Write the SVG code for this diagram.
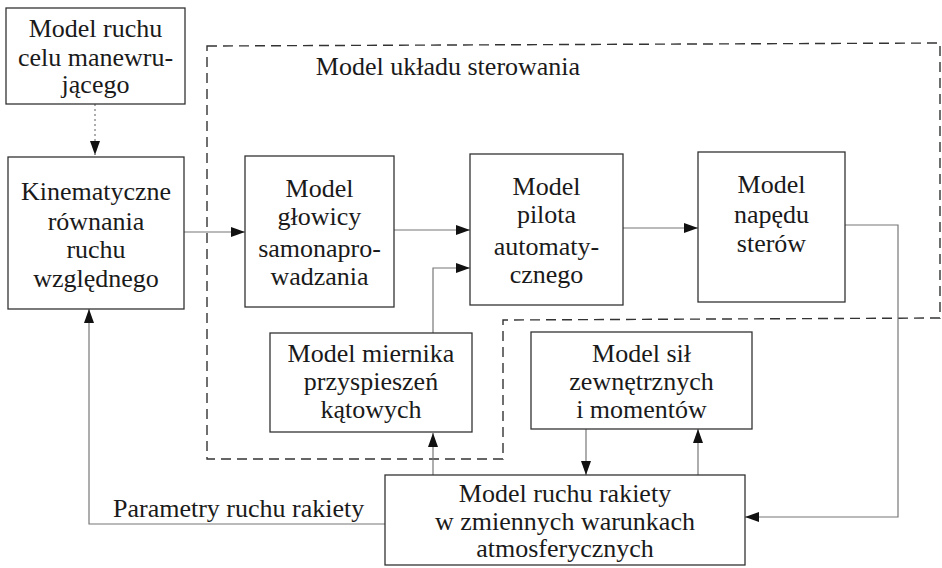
<svg xmlns="http://www.w3.org/2000/svg" width="942" height="568" viewBox="0 0 942 568">
<style>
.box{fill:#fff;stroke:#333;stroke-width:1.3}
.t{font-family:"Liberation Serif","Times New Roman",serif;font-size:26px;fill:#1a1a1a;text-anchor:middle}
.c{fill:none;stroke:#777;stroke-width:1.2}
.dash{fill:none;stroke:#333;stroke-width:1.4;stroke-dasharray:10 6}
</style>
<defs>
<marker id="ah" viewBox="0 0 14 10" refX="14" refY="5" markerWidth="14" markerHeight="10" markerUnits="userSpaceOnUse" orient="auto">
<path d="M0,0 L14,5 L0,10 z" fill="#111"/>
</marker>
</defs>
<rect width="942" height="568" fill="#fff"/>
<g id="region">
<path class="dash" d="M207,46 L940,43 L940,318 L503,320 L503,459 L207,459 Z"/>
<text class="t" x="448" y="75">Model układu sterowania</text>
</g>
<g id="connectors">
<path class="c" d="M95,104 V155" stroke-dasharray="2 3" marker-end="url(#ah)"/>
<path class="c" d="M184,232 H245" marker-end="url(#ah)"/>
<path class="c" d="M394,230 H470" marker-end="url(#ah)"/>
<path class="c" d="M623,228 H698" marker-end="url(#ah)"/>
<path class="c" d="M433,333 V268 H470" marker-end="url(#ah)"/>
<path class="c" d="M845,225 H898 V517 H745" marker-end="url(#ah)"/>
<path class="c" d="M433,475 V433" marker-end="url(#ah)"/>
<path class="c" d="M586,429 V475" marker-end="url(#ah)"/>
<path class="c" d="M698,475 V429" marker-end="url(#ah)"/>
<path class="c" d="M385,524 H89 V309" marker-end="url(#ah)"/>
<text class="t" x="113" y="517" style="text-anchor:start">Parametry ruchu rakiety</text>
</g>
<g id="cel">
<rect class="box" x="6" y="8" width="179" height="96"/>
<text class="t" x="95.5" y="37">Model ruchu</text>
<text class="t" x="95.5" y="66">celu  manewru-</text>
<text class="t" x="95.5" y="93">jącego</text>
</g>
<g id="kinematyczne">
<rect class="box" x="8" y="157" width="176" height="152"/>
<text class="t" x="96" y="200">Kinematyczne</text>
<text class="t" x="96" y="230">równania</text>
<text class="t" x="96" y="258">ruchu</text>
<text class="t" x="96" y="287">względnego</text>
</g>
<g id="glowica">
<rect class="box" x="245" y="156" width="149" height="151"/>
<text class="t" x="319.5" y="197">Model</text>
<text class="t" x="319.5" y="225">głowicy</text>
<text class="t" x="319.5" y="257">samonapro-</text>
<text class="t" x="319.5" y="285">wadzania</text>
</g>
<g id="pilot">
<rect class="box" x="470" y="154" width="153" height="151"/>
<text class="t" x="546.5" y="195">Model</text>
<text class="t" x="546.5" y="223">pilota</text>
<text class="t" x="546.5" y="255">automaty-</text>
<text class="t" x="546.5" y="283">cznego</text>
</g>
<g id="naped">
<rect class="box" x="698" y="152" width="147" height="150"/>
<text class="t" x="771.5" y="193">Model</text>
<text class="t" x="771.5" y="223">napędu</text>
<text class="t" x="771.5" y="252">sterów</text>
</g>
<g id="miernik">
<rect class="box" x="270" y="333" width="202" height="99"/>
<text class="t" x="371" y="362">Model miernika</text>
<text class="t" x="371" y="390">przyspieszeń</text>
<text class="t" x="371" y="418">kątowych</text>
</g>
<g id="sily">
<rect class="box" x="531" y="332" width="221" height="97"/>
<text class="t" x="641.5" y="362">Model sił</text>
<text class="t" x="641.5" y="390">zewnętrznych</text>
<text class="t" x="641.5" y="418">i momentów</text>
</g>
<g id="rakieta">
<rect class="box" x="385" y="475" width="360" height="90"/>
<text class="t" x="565" y="502">Model ruchu rakiety</text>
<text class="t" x="565" y="530">w zmiennych warunkach</text>
<text class="t" x="565" y="557">atmosferycznych</text>
</g>
</svg>
